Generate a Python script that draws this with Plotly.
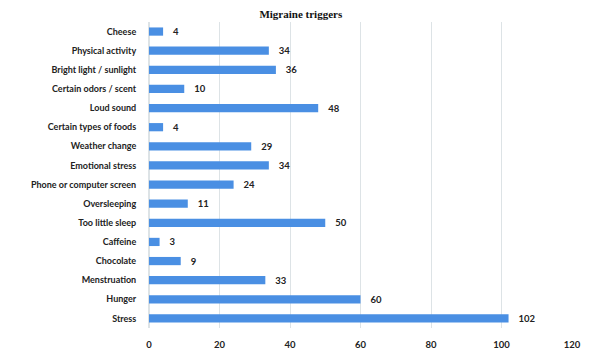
import plotly.graph_objects as go

categories = ["Cheese", "Physical activity", "Bright light / sunlight", "Certain odors / scent",
              "Loud sound", "Certain types of foods", "Weather change", "Emotional stress",
              "Phone or computer screen", "Oversleeping", "Too little sleep", "Caffeine",
              "Chocolate", "Menstruation", "Hunger", "Stress"]
values = [4, 34, 36, 10, 48, 4, 29, 34, 24, 11, 50, 3, 9, 33, 60, 102]
tick_vals = [0, 20, 40, 60, 80, 100, 120]

FONT = "Lato"

fig = go.Figure(go.Bar(
    y=categories, x=values, orientation="h",
    marker=dict(color="#4a8fe3", line=dict(width=0)),
    texttemplate="   %{x}", textposition="outside",
    textfont=dict(size=9.5, color="#222222", family=FONT, weight="bold"),
    constraintext="none",
    cliponaxis=False,
))
fig.update_layout(
    width=600, height=359,
    margin=dict(l=141, r=36, t=14, b=39),
    plot_bgcolor="white", paper_bgcolor="white",
    bargap=0.57,
    showlegend=False,
    title=dict(text="Migraine triggers", x=0.488, xref="container", xanchor="center",
               y=0.995, yanchor="top",
               font=dict(family="Liberation Serif", size=11, color="#111111", weight="bold")),
    font=dict(family=FONT, size=9.5, color="#222222"),
)
fig.update_xaxes(range=[0, 120], tickvals=tick_vals, showgrid=True, gridcolor="#dde3e6",
                 gridwidth=1, zeroline=True, zerolinecolor="#dde3e6", showline=False,
                 automargin=False,
                 tickfont=dict(size=9.5, family=FONT, weight="bold", color="#222222"),
                 ticks="outside", ticklen=8, tickcolor="rgba(0,0,0,0)")
fig.update_yaxes(autorange="reversed", showgrid=False, automargin=False,
                 ticks="outside", ticklen=10, tickcolor="rgba(0,0,0,0)",
                 tickfont=dict(size=9, family=FONT, weight="bold", color="#222222"))
fig.write_html("out.html")
